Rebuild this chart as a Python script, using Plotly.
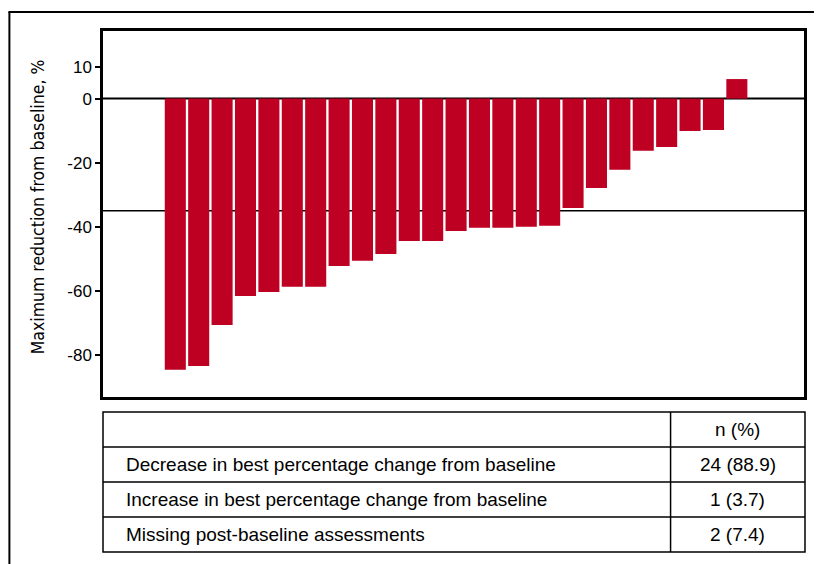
import plotly.graph_objects as go

# Best percentage change from baseline per patient, sorted
patients = list(range(1, 26))
max_change = [-84.6, -83.4, -70.6, -61.6, -60.3, -58.7, -58.7, -52.2, -50.6, -48.5,
              -44.4, -44.4, -41.3, -40.3, -40.3, -40.0, -39.7, -34.1, -27.9, -22.2,
              -16.3, -15.1, -10.1, -9.8, 6.1]
threshold = -35
y_ticks = [10, 0, -20, -40, -60, -80]

# Summary table
table_header = ["", "n (%)"]
row_labels = ["Decrease in best percentage change from baseline",
              "Increase in best percentage change from baseline",
              "Missing post-baseline assessments"]
row_values = ["24 (88.9)", "1 (3.7)", "2 (7.4)"]

BAR = "#BE0022"
FONT = "Liberation Sans, Arial, Helvetica, sans-serif"
NARROW = "DejaVu Sans Condensed, Liberation Sans Narrow, Arial Narrow, sans-serif"

W, H = 817, 564
L, R, T, B = 103, 807, 31, 397  # plot area in pixels


def px_x(p):
    return (p - L) / (R - L)


def px_y(p):
    return (B - p) / (B - T)


fig = go.Figure()
fig.add_trace(go.Bar(x=patients, y=max_change, marker=dict(color=BAR, line=dict(width=0)),
                     width=0.9, hoverinfo="y"))

# reference lines at 0 and at the response threshold
fig.add_hline(y=0, line=dict(color="black", width=2), layer="below")
fig.add_hline(y=threshold, line=dict(color="black", width=1.5), layer="below")

shapes = []
annotations = []

# outer frame (top and left edges)
shapes.append(dict(type="line", xref="paper", yref="paper", x0=px_x(8), x1=px_x(817),
                   y0=px_y(12), y1=px_y(12), line=dict(color="black", width=2)))
shapes.append(dict(type="line", xref="paper", yref="paper", x0=px_x(9), x1=px_x(9),
                   y0=px_y(12), y1=px_y(564), line=dict(color="black", width=2)))

# table grid
t_left, t_right, t_div = 103, 808, 673
t_top, row_h = 412, 35
n_rows = len(row_labels) + 1
shapes.append(dict(type="rect", xref="paper", yref="paper",
                   x0=px_x(t_left), x1=px_x(t_right), y0=px_y(t_top), y1=px_y(t_top + n_rows * row_h),
                   line=dict(color="black", width=1.5)))
for i in range(1, n_rows):
    yy = t_top + i * row_h
    shapes.append(dict(type="line", xref="paper", yref="paper", x0=px_x(t_left), x1=px_x(t_right),
                       y0=px_y(yy), y1=px_y(yy), line=dict(color="black", width=1.5)))
shapes.append(dict(type="line", xref="paper", yref="paper", x0=px_x(t_div), x1=px_x(t_div),
                   y0=px_y(t_top), y1=px_y(t_top + n_rows * row_h), line=dict(color="black", width=1.5)))

TFONT = dict(family=FONT, size=19, color="black")
annotations.append(dict(text=table_header[1], xref="paper", yref="paper",
                        x=px_x((t_div + t_right) / 2), y=px_y(t_top + row_h / 2),
                        showarrow=False, xanchor="center", yanchor="middle", font=TFONT))
for i, (lab, val) in enumerate(zip(row_labels, row_values)):
    yc = t_top + (i + 1.5) * row_h
    annotations.append(dict(text=lab, xref="paper", yref="paper", x=px_x(124), y=px_y(yc),
                            showarrow=False, xanchor="left", yanchor="middle", font=TFONT))
    annotations.append(dict(text=val, xref="paper", yref="paper",
                            x=px_x((t_div + t_right) / 2), y=px_y(yc),
                            showarrow=False, xanchor="center", yanchor="middle", font=TFONT))

# y-axis title
annotations.append(dict(text="Maximum reduction from baseline, %", xref="paper", yref="paper",
                        x=px_x(38), y=px_y(207), textangle=-90, showarrow=False,
                        xanchor="center", yanchor="middle",
                        font=dict(family=NARROW, size=17.5, color="black")))

fig.update_layout(
    width=W, height=H,
    margin=dict(l=L, r=W - R, t=T, b=H - B),
    paper_bgcolor="white", plot_bgcolor="white",
    showlegend=False, bargap=0.1,
    shapes=fig.layout.shapes + tuple(shapes),
    annotations=annotations,
    xaxis=dict(range=[-2.09, 27.87], showticklabels=False, ticks="", showgrid=False,
               zeroline=False, showline=True, linecolor="black", linewidth=2.5, mirror=True),
    yaxis=dict(range=[-93.1, 21.1], tickvals=y_ticks, ticktext=[str(v) for v in y_ticks],
               ticks="outside", ticklen=5, tickwidth=1.5, tickcolor="black",
               tickfont=dict(family=FONT, size=17, color="black"),
               showgrid=False, zeroline=False, showline=True, linecolor="black",
               linewidth=2.5, mirror=True),
)

fig.write_html("out.html")
